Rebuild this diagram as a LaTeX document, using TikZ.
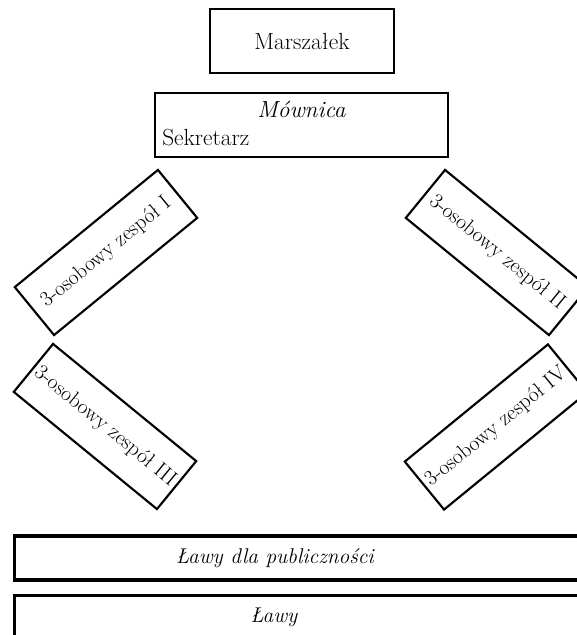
\documentclass[tikz,border=0pt]{standalone}
\usetikzlibrary{positioning}

\begin{document}
\begin{tikzpicture}[x=0.75pt,y=0.75pt,
  font=\fontsize{16}{19}\selectfont,
  box/.style={draw,line width=1.9pt,minimum height=48pt,inner sep=0pt,font=\fontsize{17.5}{21}\selectfont},
  zespol/.style={draw,line width=1.6pt,minimum width=138.75pt,minimum height=46.5pt,inner sep=0pt},
  lawa/.style={draw,line width=2.3pt,minimum width=448pt,minimum height=33pt,inner sep=0pt,anchor=west}
]

\useasboundingbox (0,0) rectangle (577,-635);
\clip (0,0) rectangle (577,-635);

% prezydium
\node[box,minimum width=138pt] (marszalek) at (302,-41) {Marszałek};
\node[box,minimum width=219.75pt] (mownica) at (301.5,-125) {};
\node[font=\fontsize{17.5}{21}\selectfont\itshape] (mownicaT) at (301.5,-109) {Mównica};
\node[anchor=west,inner sep=0pt,font=\fontsize{17.5}{21}\selectfont] (sekretarz) at (162,-138) {Sekretarz};

% zespoly
\node[zespol,rotate=39.3] (zespolI) at (106,-252.5) {3-osobowy zespół I};
\node[zespol,rotate=-39.3] (zespolII) at (497,-252.5) {3-osobowy zespół II};
\node[zespol,rotate=-39.3] (zespolIII) at (105,-426.5) {3-osobowy zespół III};
\node[zespol,rotate=39.3] (zespolIV) at (496,-427) {3-osobowy zespół IV};

% lawy
\node[lawa] (publicznosc) at (13,-558) {};
\node (publicznoscT) at (275,-558) {\itshape Ławy dla publiczności};
\node[lawa,minimum height=60pt,anchor=north west] (lawy) at (13,-594) {};
\node (lawyT) at (274,-617) {\itshape Ławy};
\end{tikzpicture}
\end{document}
